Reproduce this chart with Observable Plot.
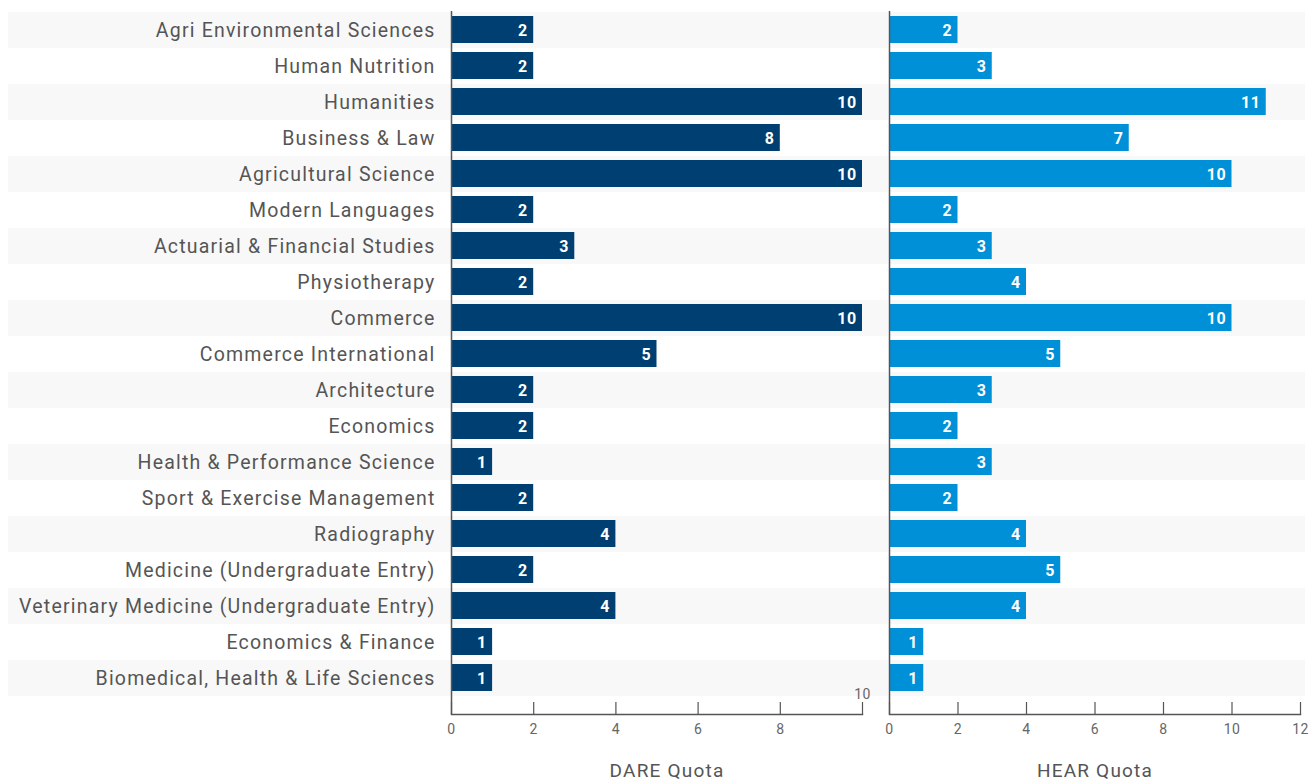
<!DOCTYPE html>
<html><head><meta charset="utf-8">
<script src="https://cdn.jsdelivr.net/npm/d3@7"></script>
<script src="https://cdn.jsdelivr.net/npm/@observablehq/plot@0.6"></script>
<style>
body{margin:0;background:#fff;}
#wrap{position:relative;width:1313px;height:781px;overflow:hidden;}
#wrap svg{position:absolute;top:0;font-family:Roboto, sans-serif;}
#wrap g[font-size="19.5"]{letter-spacing:1.2px;}
#wrap g[font-size="19"]{letter-spacing:1.2px;}
#wrap g[font-size="14"]{letter-spacing:0.4px;}
#wrap g[font-size="16"]{letter-spacing:0.4px;}
</style></head><body><div id="wrap"></div>
<script>
const categories = [
  "Agri Environmental Sciences",
  "Human Nutrition",
  "Humanities",
  "Business & Law",
  "Agricultural Science",
  "Modern Languages",
  "Actuarial & Financial Studies",
  "Physiotherapy",
  "Commerce",
  "Commerce International",
  "Architecture",
  "Economics",
  "Health & Performance Science",
  "Sport & Exercise Management",
  "Radiography",
  "Medicine (Undergraduate Entry)",
  "Veterinary Medicine (Undergraduate Entry)",
  "Economics & Finance",
  "Biomedical, Health & Life Sciences"
];
const dareValues = [2, 2, 10, 8, 10, 2, 3, 2, 10, 5, 2, 2, 1, 2, 4, 2, 4, 1, 1];
const hearValues = [2, 3, 11, 7, 10, 2, 3, 4, 10, 5, 3, 2, 3, 2, 4, 5, 4, 1, 1];
const dareTicks = [0, 2, 4, 6, 8, 10];
const dareTickLabels = [0, 2, 4, 6, 8];
const dareRaisedTickLabels = [10];
const hearTicks = [0, 2, 4, 6, 8, 10, 12];
const hearTickLabels = [0, 2, 4, 6, 8, 10, 12];
const dareTitle = "DARE Quota";
const hearTitle = "HEAR Quota";

const dare = categories.map((c, i) => ({category: c, value: dareValues[i]}));
const hear = categories.map((c, i) => ({category: c, value: hearValues[i]}));
const stripes = categories.filter((c, i) => i % 2 === 0);

const TOP = 11, AXIS = 714, H = 781;
const GRAY = "#555";

function panel(o) {
  const marks = [
    Plot.barX(stripes, {y: d => d, x1: o.domain[0], x2: o.domain[1], fill: "#f8f8f8",
      insetLeft: -o.bandLeft, insetRight: -o.bandRight}),
    Plot.barX(o.data, {y: "category", x: "value", fill: o.color, insetTop: 4, insetBottom: 5}),
    Plot.text(o.data, {y: "category", x: "value", text: d => String(d.value), textAnchor: "end",
      dx: -6, dy: 0.5, fill: "white", fontWeight: "bold", fontSize: 16}),
    Plot.ruleX(o.ticks, {x: d => d, insetTop: AXIS - TOP - 12, stroke: GRAY, strokeWidth: 1.2}),
    Plot.ruleX([o.domain[0]], {stroke: GRAY, strokeWidth: 1.5}),
    Plot.frame({anchor: "bottom", stroke: GRAY, strokeWidth: 1.5}),
    Plot.text(o.labels, {x: d => d, text: d => String(d), frameAnchor: "bottom", lineAnchor: "middle",
      dy: 15, fill: "#666", fontSize: 14}),
    Plot.text([o.title], {text: d => d, frameAnchor: "bottom", lineAnchor: "middle", dy: 56,
      dx: o.titleDx, fill: GRAY, fontSize: 19})
  ];
  if (o.raised) marks.push(Plot.text(o.raised, {x: d => d, text: d => String(d), frameAnchor: "bottom",
      lineAnchor: "middle", dy: -20, fill: "#666", fontSize: 14}));
  if (o.showY) marks.push(Plot.text(categories, {y: d => d, text: d => d, frameAnchor: "left",
      textAnchor: "end", dx: -16, fill: GRAY, fontSize: 19.5}));
  const svg = Plot.plot({
    width: o.width, height: H,
    marginLeft: o.marginLeft, marginRight: o.marginRight, marginTop: TOP, marginBottom: H - AXIS,
    x: {domain: o.domain, axis: null},
    y: {domain: categories, range: [TOP, 697.7], padding: 0, axis: null},
    marks
  });
  svg.style.left = o.left + "px";
  return svg;
}

const wrap = document.getElementById("wrap");
wrap.appendChild(panel({
  data: dare, color: "#003f72", domain: [0, 10], ticks: dareTicks, labels: dareTickLabels,
  raised: dareRaisedTickLabels, title: dareTitle, width: 889, marginLeft: 451, marginRight: 27,
  bandLeft: 443, bandRight: 26, showY: true, titleDx: 10, left: 0
}));
wrap.appendChild(panel({
  data: hear, color: "#0090d8", domain: [0, 12], ticks: hearTicks, labels: hearTickLabels,
  raised: null, title: hearTitle, width: 443, marginLeft: 19, marginRight: 13,
  bandLeft: 0, bandRight: 5, showY: false, titleDx: 0, left: 870
}));
</script></body></html>
